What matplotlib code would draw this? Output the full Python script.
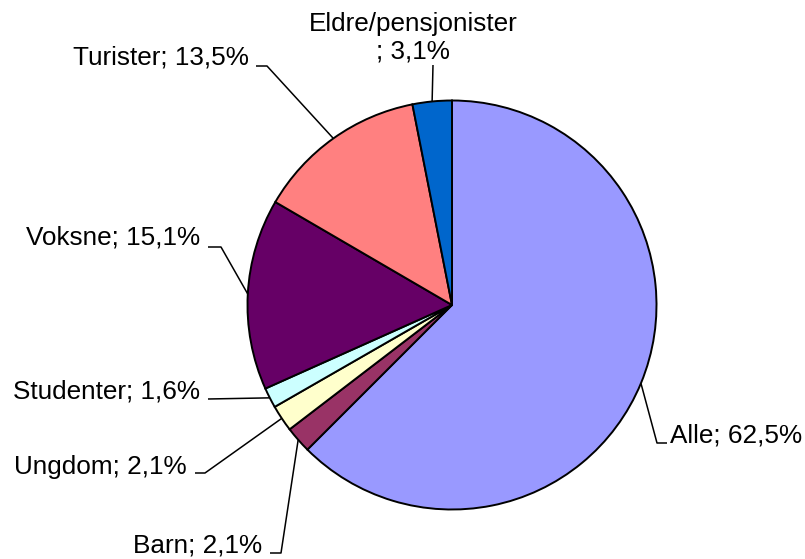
import numpy as np
import matplotlib
matplotlib.use('Agg')
from matplotlib import pyplot as plt

# data, clockwise from the top
names = ['Alle', 'Barn', 'Ungdom', 'Studenter', 'Voksne', 'Turister', 'Eldre/pensjonister']
values = [62.5, 2.1, 2.1, 1.6, 15.1, 13.5, 3.1]
colors = ['#9999FF', '#993366', '#FFFFCC', '#CCFFFF', '#660066', '#FF8080', '#0066CC']

W, H = 805, 559
cx, cy, r = 452, 305, 204.5

# label placement in pixels: text anchor, alignment, leader points (text side first)
layout = {
    'Alle': ((670, 435), 'left', [(667, 443), (657, 443)]),
    'Barn': ((262, 545), 'right', [(270, 553), (281, 553)]),
    'Ungdom': ((187, 467), 'right', [(195, 473), (205, 473)]),
    'Studenter': ((200, 392), 'right', [(208, 399), (262, 398)]),
    'Voksne': ((200, 238), 'right', [(208, 247), (221, 247)]),
    'Turister': ((249, 58), 'right', [(256, 66), (267, 66)]),
    'Eldre/pensjonister': ((413, 38), 'center', [(433, 65)]),
}

plt.rcParams['font.family'] = ['Liberation Sans', 'DejaVu Sans']
fig = plt.figure(figsize=(W / 100, H / 100), dpi=100)
ax = fig.add_axes([0, 0, 1, 1])

# y axis is inverted below, so counterclockwise in data = clockwise on screen
wedges, _ = ax.pie(values, colors=colors, startangle=-90, counterclock=True,
                   center=(cx, cy), radius=r,
                   wedgeprops=dict(edgecolor='black', linewidth=1.4))

for w, name, v in zip(wedges, names, values):
    mid = np.radians((w.theta1 + w.theta2) / 2)
    px, py = cx + r * np.cos(mid), cy + r * np.sin(mid)
    (tx, ty), ha, pts = layout[name]
    xs = [p[0] for p in pts] + [px]
    ys = [p[1] for p in pts] + [py]
    ax.plot(xs, ys, color='black', lw=1.1, solid_capstyle='butt')
    pct = f'{v:.1f}%'.replace('.', ',')
    if name == 'Eldre/pensjonister':
        txt = f'{name}\n; {pct}'
    else:
        txt = f'{name}; {pct}'
    ax.text(tx, ty, txt, ha=ha, va='center', fontsize=18.8, linespacing=1.2,
            multialignment='center')

ax.set_xlim(0, W)
ax.set_ylim(H, 0)
ax.set_aspect('equal')
ax.axis('off')
fig.savefig('out.png', dpi=100, facecolor='white')
